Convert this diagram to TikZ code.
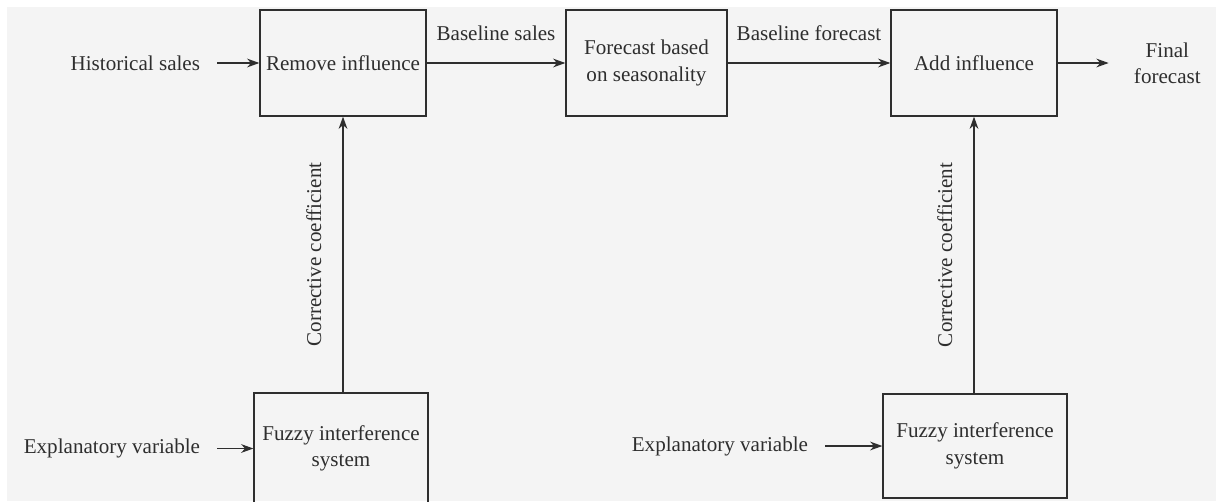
\documentclass[tikz,border=0pt]{standalone}
\usepackage{fontspec}
\setmainfont{Liberation Serif}
\usetikzlibrary{arrows.meta,positioning}
\definecolor{ink}{HTML}{2E2E2E}
\definecolor{panel}{HTML}{F4F4F4}

\begin{document}
\begin{tikzpicture}[x=0.02cm,y=-0.02cm,font=\fontsize{12}{15}\selectfont,
    block/.style={draw=ink,line width=0.75pt,text=ink,align=center,inner sep=0pt},
    lbl/.style={text=ink,align=center,inner xsep=0.34cm,inner ysep=0pt},
    tag/.style={text=ink,inner sep=0pt},
    arr/.style={-{Stealth[length=7pt,width=5pt]},draw=ink,line width=0.65pt}]
    \useasboundingbox (0,0) rectangle (1216,501);
    \fill[panel] (7,7) rectangle (1216,501);
    % blocks
    \node[block,minimum width=3.32cm,minimum height=2.12cm] (remove) at (343,63) {Remove influence};
    \node[block,minimum width=3.22cm,minimum height=2.12cm] (forecast) at (646.5,63) {Forecast based\\on seasonality};
    \node[block,minimum width=3.32cm,minimum height=2.12cm] (add) at (974,63) {Add influence};
    \node[block,minimum width=3.48cm,minimum height=2.22cm] (fuzzyL) at (341,448.5) {Fuzzy interference\\system};
    \node[block,minimum width=3.68cm,minimum height=2.08cm] (fuzzyR) at (975,446) {Fuzzy interference\\system};
    % inputs and output
    \node[lbl,left=0.84cm of remove] (hist) {Historical sales};
    \node[lbl,left=0.72cm of fuzzyL] (explL) {Explanatory variable};
    \node[lbl,left=1.14cm of fuzzyR] (explR) {Explanatory variable};
    \node[lbl,inner xsep=0.5cm,right=1.02cm of add] (final) {Final\\forecast};
    % flow
    \draw[arr] (hist) -- (remove);
    \draw[arr] (remove) -- node[tag,midway,above=0.44cm] {Baseline sales} (forecast);
    \draw[arr] (forecast) -- node[tag,midway,above=0.44cm] {Baseline forecast} (add);
    \draw[arr] (add) -- (final);
    \draw[arr] (explL) -- (fuzzyL);
    \draw[arr] (explR) -- (fuzzyR);
    \draw[arr] (fuzzyL.north -| remove.south) -- node[tag,midway,sloped,above=0.42cm] {Corrective coefficient} (remove.south);
    \draw[arr] (fuzzyR.north -| add.south) -- node[tag,midway,sloped,above=0.42cm] {Corrective coefficient} (add.south);
\end{tikzpicture}
\end{document}
